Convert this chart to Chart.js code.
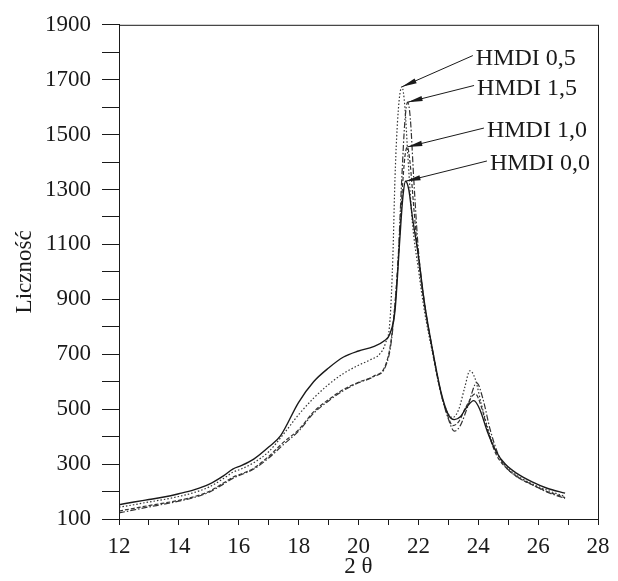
<!DOCTYPE html>
<html>
<head>
<meta charset="utf-8">
<script src="https://cdn.jsdelivr.net/npm/chart.js"></script>
<style>
  body { margin: 0; background: #fff; }
  canvas { display: block; }
</style>
</head>
<body>
<canvas id="myChart" width="618" height="581"></canvas>
<script>
// HMDI 0,0 - solid
const x00 = [12, 12.5, 13, 13.5, 14, 14.5, 15, 15.5, 15.8, 16.1, 16.5, 17, 17.4, 18, 18.5, 19, 19.5, 20, 20.5, 20.85, 21.05, 21.22, 21.38, 21.48, 21.57, 21.68, 21.8, 22.0, 22.2, 22.5, 22.75, 23.0, 23.2, 23.4, 23.6, 23.85, 24.05, 24.3, 24.6, 24.9, 25.3, 25.8, 26.3, 26.9];
const y00 = [152, 162, 171, 180, 192, 206, 226, 258, 282, 295, 318, 362, 404, 525, 600, 650, 690, 712, 728, 748, 775, 860, 1120, 1270, 1330, 1300, 1200, 1060, 890, 700, 565, 480, 462, 472, 505, 531, 500, 420, 345, 300, 265, 235, 212, 194];

// HMDI 0,5 - dotted
const x05 = [12, 12.5, 13, 13.5, 14, 14.5, 15, 15.5, 15.8, 16.1, 16.5, 17, 17.5, 18, 18.5, 19, 19.5, 20, 20.4, 20.7, 20.9, 21.05, 21.15, 21.22, 21.33, 21.45, 21.55, 21.65, 21.8, 22.0, 22.2, 22.5, 22.75, 23.0, 23.15, 23.35, 23.55, 23.72, 23.9, 24.1, 24.35, 24.6, 24.9, 25.3, 25.8, 26.3, 26.9];
const y05 = [143, 152, 162, 171, 182, 196, 216, 248, 270, 283, 305, 345, 410, 480, 540, 590, 630, 660, 680, 700, 740, 821, 1062, 1346, 1590, 1674, 1600, 1420, 1180, 1010, 860, 690, 560, 482, 470, 500, 580, 640, 610, 520, 420, 345, 295, 258, 228, 205, 182];

// HMDI 1,0 - dashed
const x10 = [12, 12.5, 13, 13.5, 14, 14.5, 15, 15.5, 15.8, 16.1, 16.5, 17, 17.5, 18, 18.5, 19, 19.5, 20, 20.5, 20.9, 21.1, 21.3, 21.45, 21.55, 21.63, 21.72, 21.85, 22.0, 22.2, 22.5, 22.75, 23.0, 23.15, 23.35, 23.6, 23.9, 24.1, 24.35, 24.6, 24.9, 25.3, 25.8, 26.3, 26.9];
const y10 = [129, 139, 149, 158, 168, 181, 200, 232, 252, 265, 285, 328, 380, 425, 490, 535, 572, 598, 620, 660, 760, 1000, 1280, 1420, 1455, 1400, 1230, 1050, 880, 695, 560, 470, 440, 455, 510, 556, 510, 410, 335, 290, 253, 225, 200, 178];

// HMDI 1,5 - dash-dot
const x15 = [12, 12.5, 13, 13.5, 14, 14.5, 15, 15.5, 15.8, 16.1, 16.5, 17, 17.5, 18, 18.5, 19, 19.5, 20, 20.5, 20.9, 21.1, 21.3, 21.45, 21.55, 21.64, 21.73, 21.85, 22.0, 22.2, 22.5, 22.75, 23.0, 23.2, 23.4, 23.65, 23.95, 24.15, 24.4, 24.65, 24.9, 25.3, 25.8, 26.3, 26.9];
const y15 = [122, 133, 144, 154, 165, 178, 197, 228, 248, 262, 282, 322, 372, 420, 485, 530, 568, 596, 618, 655, 750, 1000, 1350, 1550, 1618, 1560, 1330, 1080, 890, 700, 560, 465, 420, 440, 510, 596, 540, 425, 340, 292, 254, 225, 198, 175];

const seriesNames = ['HMDI 0,0', 'HMDI 0,5', 'HMDI 1,0', 'HMDI 1,5'];

function pts(xs, ys) {
    return xs.map((x, i) => ({x: x, y: ys[i]}));
}

const serif = "'Liberation Serif', 'DejaVu Serif', serif";
const ink = '#1a1a1a';

// labels with arrows pointing at each peak
const notes = [
    {ds: 1, text: 'HMDI 0,5', lx: 23.92, ly: 1777},
    {ds: 3, text: 'HMDI 1,5', lx: 23.96, ly: 1668},
    {ds: 2, text: 'HMDI 1,0', lx: 24.29, ly: 1513},
    {ds: 0, text: 'HMDI 0,0', lx: 24.39, ly: 1393}
];

const framePlugin = {
    id: 'frame',
    afterDraw(chart) {
        const c = chart.ctx;
        const a = chart.chartArea;
        const xs = chart.scales.x, ys = chart.scales.y;
        c.save();
        c.strokeStyle = ink;
        c.lineWidth = 1;
        c.strokeRect(a.left + 0.5, a.top + 0.5, a.right - a.left, a.bottom - a.top);

        c.font = '24px ' + serif;
        c.fillStyle = ink;
        c.textAlign = 'left';
        c.textBaseline = 'middle';
        notes.forEach(n => {
            const data = chart.data.datasets[n.ds].data;
            let peak = data[0];
            data.forEach(p => { if (p.y > peak.y) peak = p; });
            const tx = xs.getPixelForValue(peak.x);
            const ty = ys.getPixelForValue(peak.y);
            const lx = xs.getPixelForValue(n.lx);
            const ly = ys.getPixelForValue(n.ly);
            c.fillText(n.text, lx, ly);
            const sx = lx - 3, sy = ly - 3;
            c.beginPath();
            c.moveTo(sx, sy);
            c.lineTo(tx, ty);
            c.lineWidth = 1;
            c.stroke();
            const ang = Math.atan2(ty - sy, tx - sx);
            const L = 15, W = 2.6;
            c.beginPath();
            c.moveTo(tx, ty);
            c.lineTo(tx - L * Math.cos(ang) - W * Math.sin(ang), ty - L * Math.sin(ang) + W * Math.cos(ang));
            c.lineTo(tx - L * Math.cos(ang) + W * Math.sin(ang), ty - L * Math.sin(ang) - W * Math.cos(ang));
            c.closePath();
            c.fill();
        });
        c.restore();
    }
};

const ctx = document.getElementById('myChart').getContext('2d');
const myChart = new Chart(ctx, {
    type: 'line',
    data: {
        datasets: [
            {label: seriesNames[0], data: pts(x00, y00), borderColor: ink, borderWidth: 1.4, borderDash: []},
            {label: seriesNames[1], data: pts(x05, y05), borderColor: '#333', borderWidth: 1.2, borderDash: [1.5, 2]},
            {label: seriesNames[2], data: pts(x10, y10), borderColor: '#333', borderWidth: 1.2, borderDash: [4, 2]},
            {label: seriesNames[3], data: pts(x15, y15), borderColor: '#333', borderWidth: 1.2, borderDash: [6, 2, 1.5, 2]}
        ]
    },
    options: {
        responsive: false,
        animation: false,
        parsing: false,
        layout: {padding: {top: 24, right: 20, left: 0, bottom: 0}},
        elements: {
            point: {radius: 0},
            line: {cubicInterpolationMode: 'monotone', fill: false}
        },
        plugins: {
            legend: {display: false},
            tooltip: {enabled: false}
        },
        scales: {
            x: {
                type: 'linear',
                min: 12,
                max: 28,
                afterFit: (s) => { s.height = 62; },
                ticks: {
                    stepSize: 1,
                    autoSkip: false,
                    maxRotation: 0,
                    padding: 8,
                    color: ink,
                    font: {family: serif, size: 23},
                    callback: (v) => (v % 2 === 0 ? v : '')
                },
                grid: {drawOnChartArea: false, drawTicks: true, tickLength: 6, tickColor: ink},
                border: {color: ink, width: 1},
                title: {display: true, text: '2 θ', color: ink, font: {family: serif, size: 23}, padding: {top: 0, bottom: 0}}
            },
            y: {
                min: 100,
                max: 1900,
                afterFit: (s) => { s.width = 119; },
                ticks: {
                    stepSize: 100,
                    autoSkip: false,
                    padding: 11,
                    color: ink,
                    font: {family: serif, size: 23},
                    callback: (v) => ((v - 100) % 200 === 0 ? v : '')
                },
                grid: {drawOnChartArea: false, drawTicks: true, tickLength: 17, tickColor: ink},
                border: {color: ink, width: 1},
                title: {display: true, text: 'Liczność', color: ink, font: {family: serif, size: 23}, padding: {top: 11, bottom: 0}}
            }
        }
    },
    plugins: [framePlugin]
});
</script>
</body>
</html>
